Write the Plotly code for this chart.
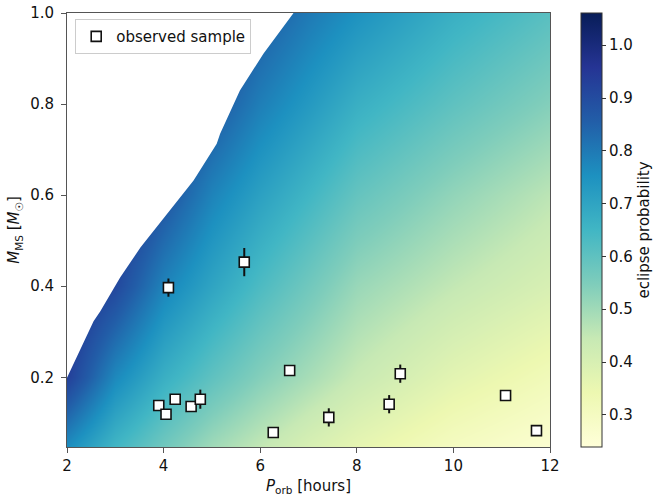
import plotly.graph_objects as go

# ---- data ----
P_grid = [2, 3, 4, 5, 6, 7, 8, 10, 12]           # orbital period [h]
M_grid = [0.047, 0.2, 0.4, 0.6, 0.8, 1.0]        # MS mass [Msun]
prob = [
    [0.76, 0.65, 0.57, 0.50, 0.45, 0.40, 0.36, 0.30, 0.26],
    [0.93, 0.77, 0.67, 0.60, 0.54, 0.49, 0.44, 0.37, 0.32],
    [0.98, 0.91, 0.78, 0.70, 0.63, 0.57, 0.51, 0.45, 0.40],
    [None, 0.97, 0.88, 0.78, 0.71, 0.65, 0.59, 0.52, 0.46],
    [None, None, 0.95, 0.87, 0.79, 0.73, 0.67, 0.60, 0.54],
    [None, None, None, 0.93, 0.86, 0.80, 0.75, 0.67, 0.61],
]

# Roche-lobe boundary (white region above it)
boundary_P = [2.0, 2.55, 2.69, 3.10, 3.52, 4.07, 4.62, 5.10, 5.17, 5.58, 6.07, 6.69]
boundary_M = [0.199, 0.323, 0.345, 0.419, 0.485, 0.559, 0.632, 0.713, 0.735, 0.83, 0.911, 1.0]

# observed sample
obs_P = [4.10, 5.67, 3.90, 4.05, 4.24, 4.57, 4.76, 6.61, 6.27, 7.42, 8.67, 8.90, 11.08, 11.72]
obs_M = [0.397, 0.453, 0.138, 0.119, 0.152, 0.136, 0.152, 0.215, 0.079, 0.112, 0.141, 0.208, 0.160, 0.083]
obs_err = [0.020, 0.031, 0.0, 0.0, 0.0, 0.0, 0.021, 0.0, 0.004, 0.020, 0.020, 0.020, 0.008, 0.0]

cbar_ticks = [0.3, 0.4, 0.5, 0.6, 0.7, 0.8, 0.9, 1.0]
zmin, zmax = 0.239, 1.061
ylgnbu = ["#ffffd9", "#edf8b1", "#c7e9b4", "#7fcdbb", "#41b6c4",
          "#1d91c0", "#225ea8", "#253494", "#081d58"]
cscale = [[i / (len(ylgnbu) - 1), c] for i, c in enumerate(ylgnbu)]

FONT = "DejaVu Sans"
FS = 15
TXT = "#111111"

# layout geometry (pixels)
W, H = 660, 498
L, R, T, B = 67, 110, 13, 51
plot_w = W - L - R

fig = go.Figure()

fig.add_trace(go.Heatmap(
    x=P_grid, y=M_grid, z=prob,
    zmin=zmin, zmax=zmax, colorscale=cscale, zsmooth="best",
    showscale=True, hoverinfo="skip",
    colorbar=dict(
        x=(581 - L) / plot_w, xanchor="left", xpad=0,
        y=0.5, yanchor="middle", ypad=0,
        lenmode="fraction", len=1.0, thickness=21,
        outlinecolor="#333333", outlinewidth=1,
        ticks="outside", ticklen=4, tickcolor="#333333",
        tickvals=cbar_ticks,
        ticktext=[f"{v:.1f}" for v in cbar_ticks],
        tickfont=dict(family=FONT, size=FS, color=TXT),
        title=dict(text="eclipse probability", side="right",
                   font=dict(family=FONT, size=FS, color=TXT)),
    ),
))

# white mask above the boundary
fig.add_trace(go.Scatter(
    x=boundary_P + [2.0], y=boundary_M + [1.0],
    fill="toself", fillcolor="white", mode="lines",
    line=dict(width=0, color="white"), showlegend=False, hoverinfo="skip",
))

fig.add_trace(go.Scatter(
    x=obs_P, y=obs_M, mode="markers", name="observed sample",
    marker=dict(symbol="square", size=10, color="white",
                line=dict(color=TXT, width=1.6)),
    error_y=dict(type="data", array=obs_err, visible=True,
                 color=TXT, thickness=2, width=0),
))

axis_common = dict(
    showline=True, mirror=True, linecolor="#555555", linewidth=1,
    ticks="outside", ticklen=5, tickcolor="#555555",
    showgrid=False, zeroline=False,
    tickfont=dict(family=FONT, size=FS, color=TXT),
)

fig.update_layout(
    width=W, height=H,
    margin=dict(l=L, r=R, t=T, b=B, autoexpand=False),
    paper_bgcolor="white", plot_bgcolor="white",
    font=dict(family=FONT, size=FS, color=TXT),
    xaxis=dict(range=[2, 12], tickvals=[2, 4, 6, 8, 10, 12],
               title=dict(text="<i>P</i><sub>orb</sub> [hours]", standoff=6,
                          font=dict(family=FONT, size=FS)),
               **axis_common),
    yaxis=dict(range=[0.047, 1.0], tickvals=[0.2, 0.4, 0.6, 0.8, 1.0],
               ticktext=["0.2", "0.4", "0.6", "0.8", "1.0"],
               ticklabelstandoff=4,
               title=dict(text="<i>M</i><sub>MS</sub> [<i>M</i><sub>☉</sub>]", standoff=6,
                          font=dict(family=FONT, size=FS)),
               **axis_common),
    legend=dict(x=0.017, y=0.986, xanchor="left", yanchor="top",
                bgcolor="white", bordercolor="#cccccc", borderwidth=1,
                font=dict(family=FONT, size=FS, color=TXT)),
    showlegend=True,
)

fig.write_html("out.html")
